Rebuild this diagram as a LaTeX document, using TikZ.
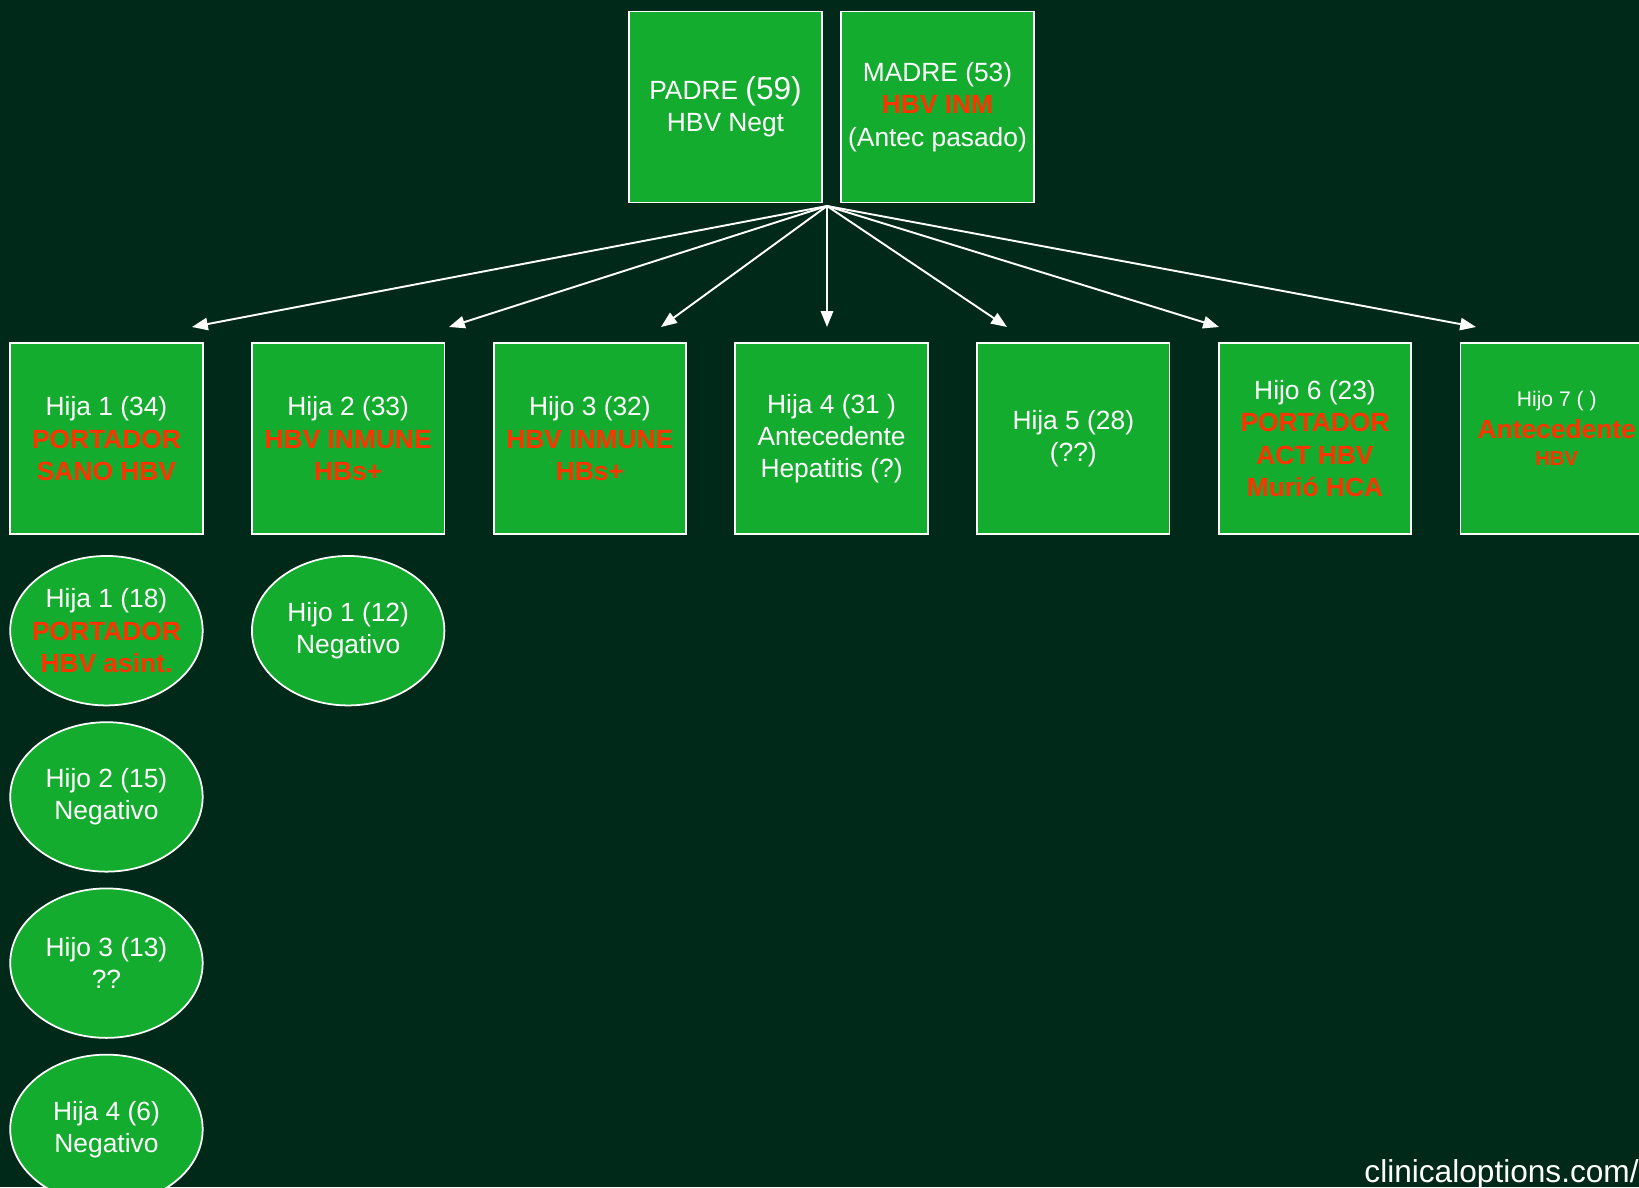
\documentclass[tikz,border=0pt]{standalone}
\usepackage{fontspec}
\setmainfont{Liberation Sans}
\usetikzlibrary{arrows.meta,shapes.geometric}

\definecolor{fondo}{RGB}{0,41,26}
\definecolor{verde}{RGB}{20,172,46}
\definecolor{rojo}{RGB}{255,51,0}
\newcommand{\positivo}[1]{{\bfseries\color{rojo}#1}}

\begin{document}
\begin{tikzpicture}[
  x=0.02cm, y=-0.02cm,
  font=\fontsize{15}{18.4}\selectfont,
  every matrix/.style={ampersand replacement=\&, column sep=0.95cm, row sep=0.3cm, inner sep=0pt, nodes={anchor=center}},
  person/.style={draw=white, line width=1pt, fill=verde, text=white, rectangle, minimum width=3.85cm, minimum height=3.82cm, inner sep=1pt},
  grandchild/.style={draw=white, line width=1pt, fill=verde, text=white, ellipse, minimum width=3.85cm, minimum height=2.99cm, inner xsep=-6mm, inner ysep=0pt},
  descends/.style={-{Triangle[length=9pt,width=7pt]}, white, line width=1.1pt},
  every node/.style={align=center}]

  \fill[fondo] (0,0) rectangle (1639,1187);
  \useasboundingbox (0,0) rectangle (1639,1187);
  \clip (0,0) rectangle (1639,1187);

  \node[person] (padre) at (725.5,107) {PADRE {\fontsize{18}{18}\selectfont(59)}\\HBV Negt};
  \node[person] (madre) at (937.5,107) {MADRE (53)\\\positivo{HBV INM}\\(Antec pasado)};

  % Position the children and grandchildren using a matrix layout
  \matrix (familia) [anchor=north west] at (9,342) {
    \node[person] (hija-1) {Hija 1 (34)\\\positivo{PORTADOR}\\\positivo{SANO HBV}};
      \& \node[person] (hija-2) {Hija 2 (33)\\\positivo{HBV INMUNE}\\\positivo{HBs+}};
        \& \node[person] (hijo-3) {Hijo 3 (32)\\\positivo{HBV INMUNE}\\\positivo{HBs+}};
          \& \node[person] (hija-4) {Hija 4 (31 )\\Antecedente\\Hepatitis (?)};
            \& \node[person] (hija-5) {Hija 5 (28)\\(??)};
              \& \node[person] (hijo-6) {Hijo 6 (23)\\\positivo{PORTADOR}\\\positivo{ACT HBV}\\\positivo{Murió HCA}};
                \& \node[person, text depth=12pt] (hijo-7) {{\fontsize{12}{14}\selectfont Hijo 7 ( )}\\\positivo{Antecedente}\\[-3.5pt]{\fontsize{11.5}{13}\selectfont\positivo{HBV}}}; \\[1mm]
    \node[grandchild] (nieta-1) {Hija 1 (18)\\\positivo{PORTADOR}\\\positivo{HBV asint.}};
      \& \node[grandchild] (nieto-1) {Hijo 1 (12)\\Negativo}; \\
    \node[grandchild] (nieto-2) {Hijo 2 (15)\\Negativo}; \\
    \node[grandchild] (nieto-3) {Hijo 3 (13)\\??}; \\
    \node[grandchild] (nieta-4) {Hija 4 (6)\\Negativo}; \\
  };

  \coordinate (origen) at (827,206);
  \foreach \n/\x in {1/192, 2/449, 3/661, 4/827, 5/1007, 6/1219, 7/1476} {
    \coordinate (punta-\n) at (\x,327);
    \draw[descends] (origen) -- (punta-\n);
  }

  \node[anchor=base east, inner sep=0pt, text=white, font=\fontsize{18}{21}\selectfont] (fuente) at (1639,1182) {clinicaloptions.com/};

\end{tikzpicture}
\end{document}
